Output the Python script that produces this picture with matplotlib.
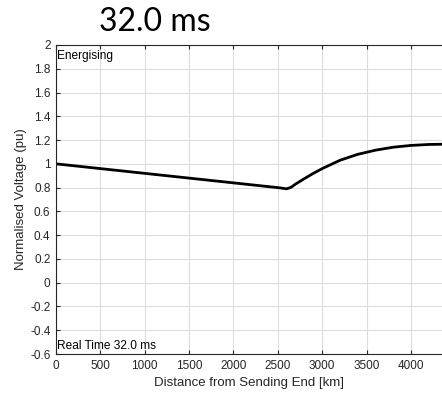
import matplotlib
matplotlib.use("Agg")
import matplotlib.pyplot as plt
import numpy as np

distance_km = [0, 500, 1000, 1500, 2000, 2500, 2550, 2600, 2650, 2700, 2800, 2900,
               3000, 3200, 3400, 3600, 3800, 4000, 4200, 4350]
voltage_pu = [1.0, 0.96, 0.92, 0.88, 0.84, 0.80, 0.795, 0.79, 0.803, 0.83, 0.876, 0.92,
              0.96, 1.03, 1.08, 1.115, 1.14, 1.155, 1.163, 1.165]
x_ticks = [0, 500, 1000, 1500, 2000, 2500, 3000, 3500, 4000]
y_ticks = [-0.6, -0.4, -0.2, 0, 0.2, 0.4, 0.6, 0.8, 1, 1.2, 1.4, 1.6, 1.8, 2]
y_tick_labels = ["-0.6", "-0.4", "-0.2", "0", "0.2", "0.4", "0.6", "0.8", "1",
                 "1.2", "1.4", "1.6", "1.8", "2"]

plt.rcParams['font.family'] = ['Liberation Sans', 'DejaVu Sans']
fig = plt.figure(figsize=(4.42, 3.93), dpi=100)
ax = fig.add_axes([0.1267, 0.0992, 0.8733, 0.7863])

ax.plot(distance_km, voltage_pu, color='black', lw=2.0)
ax.set_xlim(0, 4350)
ax.set_ylim(-0.6, 2)
ax.set_xticks(x_ticks)
ax.set_xticklabels([str(t) for t in x_ticks])
ax.set_yticks(y_ticks)
ax.set_yticklabels(y_tick_labels)
ax.grid(True, color='#dcdcdc', lw=0.8)
ax.set_axisbelow(True)
axc = '#262626'
for s in ['left', 'bottom', 'top']:
    ax.spines[s].set_color(axc)
    ax.spines[s].set_linewidth(0.8)
ax.spines['right'].set_visible(False)
ax.tick_params(direction='in', length=3, width=0.8, colors=axc, labelsize=8.5,
               top=True, labelcolor='#262626', pad=4)
ax.set_xlabel('Distance from Sending End [km]', fontsize=9.5, color='#262626', labelpad=4)
ax.set_ylabel('Normalised Voltage (pu)', fontsize=9.5, color='#262626', labelpad=2)

ax.text(0.003, 0.985, 'Energising', transform=ax.transAxes, fontsize=8.6,
        va='top', ha='left', color='black')
ax.text(0.003, 0.008, 'Real Time 32.0 ms', transform=ax.transAxes, fontsize=8.6,
        va='bottom', ha='left', color='black')

fig.text(0.351, 0.944, '32.0 ms', fontsize=23, family=['Lato', 'DejaVu Sans'],
         ha='center', va='center', color='black')

fig.savefig('out.png', dpi=100)
